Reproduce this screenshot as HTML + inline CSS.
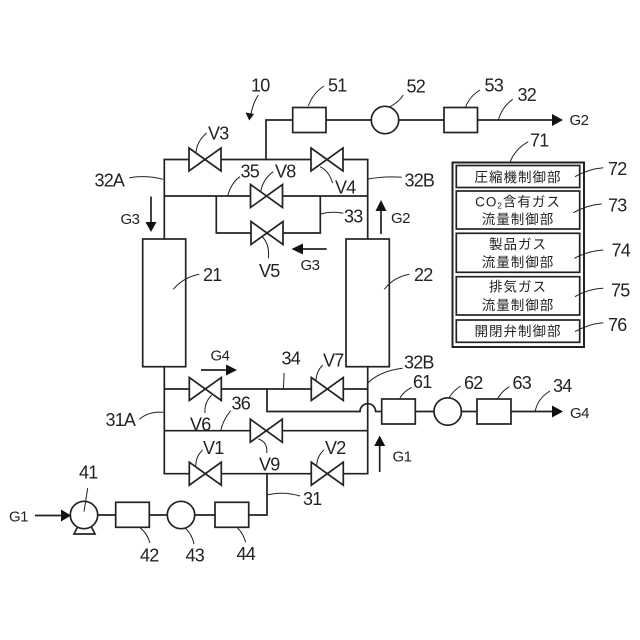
<!DOCTYPE html>
<html><head><meta charset="utf-8">
<style>
html,body{margin:0;padding:0;background:#fff}
svg{display:block}
.n{font:18px "Liberation Sans",sans-serif;fill:#222;letter-spacing:-.8px}
.g{font:15px "Liberation Sans",sans-serif;fill:#222;letter-spacing:-.5px}
.j{font:13.5px "Liberation Sans","Noto Sans CJK JP",sans-serif;fill:#222;letter-spacing:1px;text-anchor:middle}
.l{fill:none;stroke:#222;stroke-width:1.7}
.t{fill:none;stroke:#222;stroke-width:1}
.b{fill:#fff;stroke:#222;stroke-width:1.7}
.a{fill:#111}
</style></head><body>
<svg width="640" height="640" viewBox="0 0 640 640" xmlns="http://www.w3.org/2000/svg">
<defs>
<path id="v" d="M-16 -11.5 L16 11.5 L16 -11.5 L-16 11.5 Z" fill="#fff" stroke="#222" stroke-width="1.7"/>
</defs>
<!-- pipes -->
<path class="l" d="M164.3 239 V159.5 H367.7 V239"/>
<path class="l" d="M164.3 196 H367.7"/>
<path class="l" d="M216.3 196 V233 H320.3 V196"/>
<path class="l" d="M266 159.5 V120 H445"/>
<path class="l" d="M164.3 367 V473.7 H367.7 V367"/>
<path class="l" d="M164.3 389 H367.7"/>
<path class="l" d="M164.3 430.7 H367.7"/>
<path class="l" d="M267 389 V411.5 H360 A7.8 7.8 0 0 1 375.6 411.5 H382"/>
<path class="l" d="M415 411.5 H477"/>
<path class="l" d="M267 473.7 V515 H248"/>
<path class="l" d="M98 515 H216"/>
<!-- tanks -->
<rect class="b" x="142.7" y="239" width="43" height="127.7"/>
<rect class="b" x="346" y="239" width="43.3" height="127.7"/>
<!-- valves -->
<use href="#v" x="205" y="159.5"/>
<use href="#v" x="327" y="159.5"/>
<use href="#v" x="266.5" y="196"/>
<use href="#v" x="267" y="233"/>
<use href="#v" x="205.3" y="389"/>
<use href="#v" x="327.3" y="389"/>
<use href="#v" x="266.3" y="430.7"/>
<use href="#v" x="205.3" y="473.7"/>
<use href="#v" x="327.3" y="473.7"/>
<!-- boxes -->
<rect class="b" x="292.7" y="107.5" width="33.3" height="25"/>
<circle class="b" cx="385" cy="120" r="13.7"/>
<rect class="b" x="444" y="107.5" width="33.5" height="25"/>
<rect class="b" x="381.7" y="399" width="33.6" height="25"/>
<circle class="b" cx="447.7" cy="411.5" r="13.7"/>
<rect class="b" x="477" y="399" width="34" height="25"/>
<rect class="b" x="115.7" y="502.3" width="33.6" height="25"/>
<circle class="b" cx="181" cy="515" r="13.7"/>
<rect class="b" x="215" y="502.3" width="33.7" height="25"/>
<!-- pump -->
<path class="l" d="M78 526 L74 534 H95 L91 526"/>
<circle class="b" cx="84" cy="515" r="13.7"/>
<!-- arrows -->
<path class="l" d="M35 515.5 H63"/><path class="a" d="M61 509.5 L71 515.5 L61 521.5Z"/>
<path class="l" d="M477 120 H556"/><path class="a" d="M552 114 L563 120 L552 126Z"/>
<path class="l" d="M511 411.5 H556"/><path class="a" d="M552 405.5 L563 411.5 L552 417.5Z"/>
<path class="l" d="M151 196.5 V225"/><path class="a" d="M145.5 222 L151 232 L156.5 222Z"/>
<path class="l" d="M381 234 V208"/><path class="a" d="M375.5 211 L381 200 L386.500 211Z"/>
<path class="l" d="M326.7 249 H300"/><path class="a" d="M303 243.5 L291.500 249 L303 254.5Z"/>
<path class="l" d="M201 370 H228"/><path class="a" d="M226 364.5 L237 370 L226 375.5Z"/>
<path class="l" d="M379.7 472 V444"/><path class="a" d="M374.2 446 L379.7 435.5 L385.2 446Z"/>
<!-- arrow 10 -->
<path class="t" d="M258.3 95 Q253 103 251 114"/><path class="a" d="M245.500 112.500 L249.300 120.500 L254 114Z"/>
<!-- leaders -->
<path class="t" d="M196 152.700 Q197 141 206.700 133"/>
<path class="t" d="M308.300 106 Q313 93 324 86"/>
<path class="t" d="M390 106.700 Q399 102 403.300 95"/>
<path class="t" d="M465.700 106.700 Q470 96 480 90"/>
<path class="t" d="M498.300 120 Q502 107 512.700 99.300"/>
<path class="t" d="M320 166.700 Q329 171 332.700 183"/>
<path class="t" d="M260.700 191.700 Q263 179 273.300 171.700"/>
<path class="t" d="M227.700 196 Q231 183 240 176.700"/>
<path class="t" d="M368.300 179 Q385 176 401.700 177.300"/>
<path class="t" d="M320.300 214 Q332 211 343.300 213.300"/>
<path class="t" d="M262.300 236.700 Q270 245 268.300 258.300"/>
<path class="t" d="M173.300 289.300 Q184 277 199.300 274.300"/>
<path class="t" d="M384.300 289.300 Q394 277 409.300 274.300"/>
<path class="t" d="M163.300 179.300 Q146 175 129.300 177.700"/>
<path class="t" d="M163.300 412.300 Q149 411 139.300 419.300"/>
<path class="t" d="M211.700 395 Q204 403 205 413"/>
<path class="t" d="M283.300 389 Q284 381 284 373"/>
<path class="t" d="M316 380.700 Q316 372 322.700 365"/>
<path class="t" d="M368.300 382.700 Q380 371 402.700 368.300"/>
<path class="t" d="M400 398 Q403 392 411.700 387.300"/>
<path class="t" d="M220.700 430.700 Q223 420 230.700 410.700"/>
<path class="t" d="M258.300 439 Q268 442 266.700 453"/>
<path class="t" d="M195.700 466 Q196 456 202.700 450"/>
<path class="t" d="M316.700 466 Q317 456 324 450"/>
<path class="t" d="M266.700 495 Q284 491 300 496"/>
<path class="t" d="M84 511.700 L87.700 488"/>
<path class="t" d="M140 527.700 Q147 533 150 543"/>
<path class="t" d="M185 528 Q192 534 194 544"/>
<path class="t" d="M237.300 527.700 Q243 533 245.700 542.300"/>
<path class="t" d="M449 397.700 Q453 391 460.700 386"/>
<path class="t" d="M497.300 399 Q502 391 509.300 386.700"/>
<path class="t" d="M535 411.700 Q538 398 550 391"/>
<path class="t" d="M510 162.300 Q515 149 528.300 141.700"/>
<!-- panel -->
<rect x="452.500" y="162.500" width="131.500" height="184.500" fill="#fff" stroke="#222" stroke-width="2"/>
<rect class="b" x="456.300" y="165.500" width="123.400" height="22"/>
<rect class="b" x="456.300" y="191" width="123.400" height="38"/>
<rect class="b" x="456.300" y="233.300" width="123.400" height="39"/>
<rect class="b" x="456.300" y="276.700" width="123.400" height="38.300"/>
<rect class="b" x="456.300" y="320" width="123.400" height="22.300"/>
<path class="t" d="M575 176.700 Q588 169 603.300 167.700"/>
<path class="t" d="M573.300 212.700 Q587 205 601.700 204"/>
<path class="t" d="M574.300 258.300 Q588 251 603.300 250"/>
<path class="t" d="M575 296.700 Q588 289 603.300 288.300"/>
<path class="t" d="M575 331.700 Q588 324 603.300 322.700"/>
<!-- panel text -->
<text class="j" x="518" y="182">圧縮機制御部</text>
<text class="j" x="518" y="206.500">CO<tspan font-size="8" dy="2">2</tspan><tspan dy="-2">含有ガス</tspan></text>
<text class="j" x="518" y="224">流量制御部</text>
<text class="j" x="518" y="249">製品ガス</text>
<text class="j" x="518" y="267">流量制御部</text>
<text class="j" x="518" y="291.500">排気ガス</text>
<text class="j" x="518" y="310">流量制御部</text>
<text class="j" x="518" y="336">開閉弁制御部</text>
<!-- labels -->
<text class="n" x="251" y="91.700">10</text>
<text class="n" x="328" y="91.700">51</text>
<text class="n" x="406.500" y="92.700">52</text>
<text class="n" x="484.500" y="91.500">53</text>
<text class="n" x="517.500" y="101">32</text>
<text class="g" x="569.500" y="125">G2</text>
<text class="n" x="530" y="146.700">71</text>
<text class="n" x="608" y="175">72</text>
<text class="n" x="608" y="211.700">73</text>
<text class="n" x="611.500" y="256.700">74</text>
<text class="n" x="611" y="296.700">75</text>
<text class="n" x="608" y="331">76</text>
<text class="n" x="208" y="139.300">V3</text>
<text class="n" x="240.500" y="177.700">35</text>
<text class="n" x="275" y="177.700">V8</text>
<text class="n" x="335" y="193.300">V4</text>
<text class="n" x="404.500" y="186.700">32B</text>
<text class="n" x="94.500" y="186.500">32A</text>
<text class="n" x="344" y="222.700">33</text>
<text class="n" x="259" y="277">V5</text>
<text class="g" x="300.500" y="270">G3</text>
<text class="g" x="120.500" y="224">G3</text>
<text class="g" x="391" y="223">G2</text>
<text class="n" x="203" y="281">21</text>
<text class="n" x="414" y="281">22</text>
<text class="g" x="210.500" y="360.700">G4</text>
<text class="n" x="281.500" y="364.300">34</text>
<text class="n" x="323" y="366.700">V7</text>
<text class="n" x="404" y="368.300">32B</text>
<text class="n" x="413" y="388">61</text>
<text class="n" x="231.500" y="409.300">36</text>
<text class="n" x="190" y="430.700">V6</text>
<text class="n" x="105.500" y="426">31A</text>
<text class="n" x="203" y="454">V1</text>
<text class="n" x="325" y="454">V2</text>
<text class="n" x="259" y="470.700">V9</text>
<text class="n" x="303" y="505">31</text>
<text class="g" x="392.500" y="461.700">G1</text>
<text class="n" x="79" y="478.300">41</text>
<text class="g" x="9" y="521.700">G1</text>
<text class="n" x="140" y="561.700">42</text>
<text class="n" x="185.500" y="561.700">43</text>
<text class="n" x="236.500" y="560">44</text>
<text class="n" x="464" y="389">62</text>
<text class="n" x="512.500" y="389">63</text>
<text class="n" x="553" y="392">34</text>
<text class="g" x="570" y="418">G4</text>
</svg>
</body></html>
